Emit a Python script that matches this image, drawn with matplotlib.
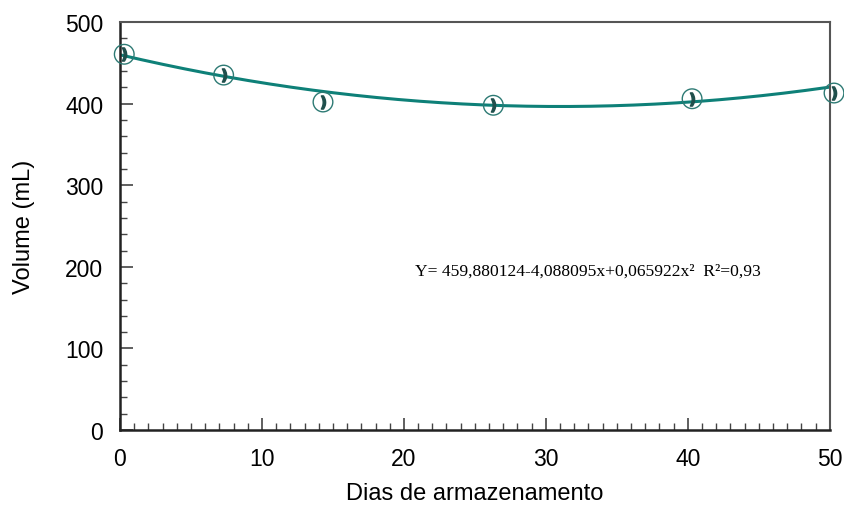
import matplotlib
matplotlib.use("Agg")
import matplotlib.pyplot as plt
import numpy as np
from matplotlib.ticker import MultipleLocator

days = [0.3, 7.3, 14.3, 26.3, 40.3, 50.3]
volume = [460.5, 435, 402, 398, 406, 413]
coef = [459.880124, -4.088095, 0.065922]
equation = "Y= 459,880124-4,088095x+0,065922x²  R²=0,93"

plt.rcParams['font.family'] = ['Liberation Sans', 'DejaVu Sans']

fig = plt.figure(figsize=(8.45, 5.06), dpi=100)
ax = fig.add_axes([0.142, 0.148, 0.840, 0.8065])

xf = np.linspace(0, 50, 200)
yf = coef[0] + coef[1] * xf + coef[2] * xf ** 2
ax.plot(xf, yf, color='#0e8078', lw=2.2, zorder=2)
ax.scatter(days, volume, s=200, facecolors='none', edgecolors='#2d7a74', linewidths=1.0, zorder=3, clip_on=False)
ax.scatter(days, volume, s=90, marker='$\\mathbf{)}$', color='#1f4f4c', zorder=4, clip_on=False)

ax.set_xlim(0, 50)
ax.set_ylim(0, 500)
ax.xaxis.set_major_locator(MultipleLocator(10))
ax.xaxis.set_minor_locator(MultipleLocator(1))
ax.yaxis.set_major_locator(MultipleLocator(100))
ax.yaxis.set_minor_locator(MultipleLocator(20))
ax.tick_params(which='both', direction='in', top=False, right=False, labelsize=16.5, color='#444444', pad=12)
ax.tick_params(which='major', length=9, width=1.2)
ax.tick_params(which='minor', length=5, width=1.0)
for side in ['left', 'bottom']:
    ax.spines[side].set_linewidth(1.8)
    ax.spines[side].set_color('#222222')
for side in ['top', 'right']:
    ax.spines[side].set_linewidth(1.5)
    ax.spines[side].set_color('#555555')

ax.set_xlabel('Dias de armazenamento', fontsize=17, labelpad=9)
ax.set_ylabel('Volume (mL)', fontsize=17, labelpad=22)
ax.text(20.8, 195, equation, fontsize=12.6, family=['Liberation Serif', 'DejaVu Serif'], va='center', ha='left')

fig.savefig('out.png', dpi=100)
